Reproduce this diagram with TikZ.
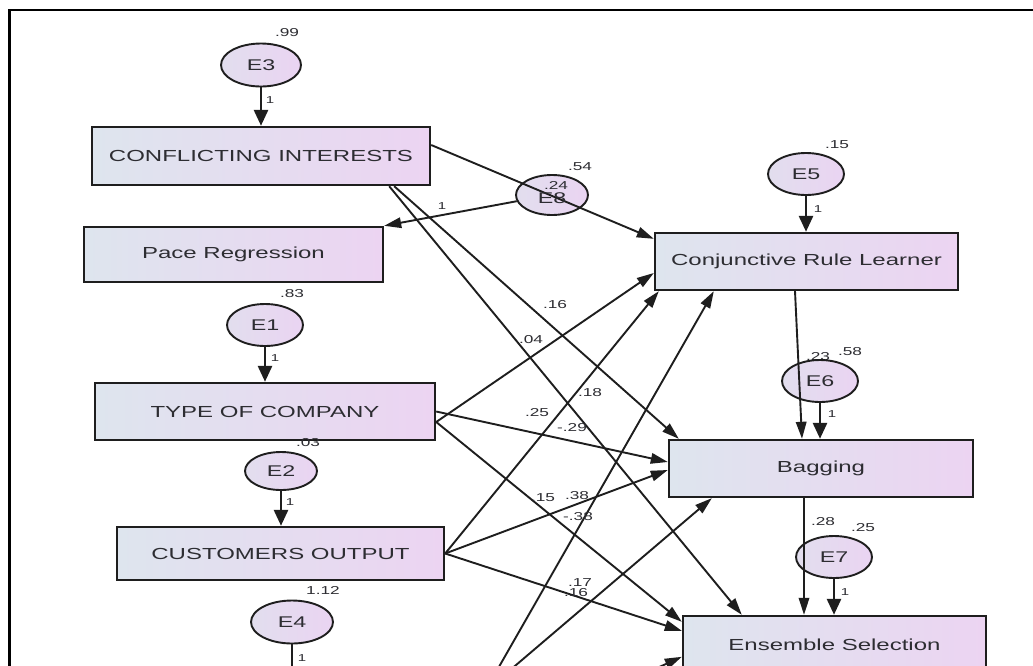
\documentclass[tikz,border=0pt]{standalone}
\usepackage{fontspec}
\newfontfamily\labfont[FakeStretch=1.5]{Liberation Sans}
\usetikzlibrary{arrows.meta,calc,shapes.geometric}
\definecolor{boxL}{RGB}{222,229,238}
\definecolor{boxR}{RGB}{236,212,242}
\definecolor{ellL}{RGB}{226,222,238}
\definecolor{ellR}{RGB}{234,212,242}
\definecolor{ink}{RGB}{30,30,30}
\definecolor{txt}{RGB}{45,45,50}
\begin{document}
\begin{tikzpicture}[x=1pt,y=-1pt,
  var/.style={draw=ink, line width=2.4pt, rectangle, left color=boxL, right color=boxR, text=txt, font=\labfont\fontsize{16}{18}\selectfont, inner sep=0pt},
  err/.style={draw=ink, line width=1.9pt, ellipse, left color=ellL, right color=ellR, text=txt, font=\labfont\fontsize{15.5}{17}\selectfont, inner sep=0pt, minimum width=76pt, minimum height=42pt},
  num/.style={text=txt, font=\labfont\fontsize{11.5}{12}\selectfont, inner sep=0pt},
  one/.style={text=txt, font=\labfont\fontsize{10}{10}\selectfont, inner sep=0pt},
  conn/.style={draw=ink, line width=1.9pt, -{Triangle[length=17pt,width=10.5pt]}},
  errarr/.style={draw=ink, line width=2.8pt, -{Triangle[length=16pt,width=14pt]}}
]
\useasboundingbox (0,0) rectangle (1033,665);
\clip (0,0) rectangle (1033,665);
\fill[white] (0,0) rectangle (1033,665);
\draw[line width=2.8pt, black] (9.5,680) -- (9.5,10) -- (1045,10);

% observed variables
\node[var, minimum width=338pt, minimum height=58pt] (CI) at (261,156) {CONFLICTING INTERESTS};
\node[var, minimum width=299pt, minimum height=55pt] (PR) at (233.5,254.5) {Pace Regression};
\node[var, minimum width=340pt, minimum height=57pt] (TOC) at (265,411.5) {TYPE OF COMPANY};
\node[var, minimum width=327pt, minimum height=53pt] (CO) at (280.5,553.5) {CUSTOMERS OUTPUT};
\node[var, minimum width=303pt, minimum height=57pt] (CRL) at (806.5,261.5) {Conjunctive Rule Learner};
\node[var, minimum width=304pt, minimum height=57pt] (BAG) at (821,468.5) {Bagging};
\node[var, minimum width=303pt, minimum height=57pt] (ES) at (834.5,644.5) {Ensemble Selection};

% label partly hidden by E6
\node[num] (l23) at (818,357) {.23};

% error terms
\node[err, minimum width=80pt, minimum height=43pt] (E3) at (261,65) {E3};
\node[err, minimum width=72pt, minimum height=40pt] (E8) at (552,195) {};
\node[err] (E1) at (265,325) {E1};
\node[err, minimum width=72pt, minimum height=38pt] (E2) at (281,471) {E2};
\node[err, minimum width=82pt, minimum height=43pt] (E4) at (292,622) {E4};
\node[err] (E5) at (806,174) {E5};
\node[err] (E6) at (820,381) {E6};
\node[err] (E7) at (834,557) {E7};

% free ends below the picture
\coordinate (E4t) at (292,705);
\coordinate (S1) at (480,700);
\coordinate (S2) at (475,700);
\coordinate (S3) at (560,712);

% error arrows
\draw[errarr] (E3.south) -- (E3.south |- CI.north);
\draw[errarr] (E1.south) -- (E1.south |- TOC.north);
\draw[errarr] (E2.south) -- (E2.south |- CO.north);
\draw[errarr] (E4.south) -- (E4t);
\draw[errarr] (E5.south) -- (E5.south |- CRL.north);
\draw[errarr] (E6.south) -- (E6.south |- BAG.north);
\draw[errarr] (E7.south) -- (E7.south |- ES.north);

% regression paths
\draw[conn] (E8.190) -- (PR.north east);
\draw[conn] ([yshift=11pt]CI.east) -- ([yshift=-7pt]CRL.north west);
\draw[conn] ([xshift=-37pt]CI.south east) -- ([xshift=11pt]BAG.north west);
\draw[conn] ([xshift=-42pt]CI.south east) -- ([xshift=60pt]ES.north west);
\draw[conn] ([yshift=-10.5pt]TOC.east) -- ([yshift=-11.5pt]CRL.west);
\draw[conn] (TOC.east) -- ([yshift=6.5pt]BAG.west);
\draw[conn] ([yshift=-10.5pt]TOC.east) -- ([yshift=-7pt]ES.north west);
\draw[conn] (CO.east) -- ([xshift=5pt]CRL.south west);
\draw[conn] (CO.east) -- ([yshift=-1.5pt]BAG.west);
\draw[conn] (CO.east) -- ([yshift=-16pt]ES.north west);
\draw[conn] ([xshift=-11.5pt]CRL.south) -- ([xshift=-19pt]BAG.north);
\draw[conn] ([xshift=-17pt]BAG.south) -- ([xshift=-30.5pt]ES.north);
\draw[conn] (S1) -- ([xshift=60pt]CRL.south west);
\draw[conn] (S2) -- ([xshift=44pt]BAG.south west);
\draw[conn] (S3) -- ([yshift=-42pt]ES.north west);

% E8 texts
\node[num] (l24) at (556,185) {.24};
\node[text=txt, font=\labfont\fontsize{15.5}{17}\selectfont, inner sep=0pt] (tE8) at (552,198) {E8};

% numeric labels
\node[num] (l99) at (287,33) {.99};
\node[one] (o3) at (270,100) {1};
\node[num] (l54) at (580,167) {.54};
\node[one] (o8) at (442,206) {1};
\node[num] (l83) at (292,294) {.83};
\node[one] (o1) at (275,358) {1};
\node[num] (l16a) at (555,305) {.16};
\node[num] (l04) at (531,340) {.04};
\node[num] (l18) at (590,393) {.18};
\node[num] (l25a) at (537,413) {.25};
\node[num] (l29) at (572,428) {-.29};
\node[num] (l03) at (308,443) {.03};
\node[one] (o2) at (290,502) {1};
\node[num] (l15a) at (543,498) {.15};
\node[num] (l38a) at (577,496) {.38};
\node[num] (l38b) at (578,517) {-.38};
\node[num] (l17) at (580,583) {.17};
\node[num] (l16b) at (576,593) {.16};
\node[num] (l112) at (323,590) {1.12};
\node[one] (o4) at (302,658) {1};
\node[num] (l15b) at (837,145) {.15};
\node[one] (o5) at (818,209) {1};
\node[num] (l58) at (850,352) {.58};
\node[one] (o6) at (832,414) {1};
\node[num] (l28) at (823,522) {.28};
\node[num] (l25b) at (863,528) {.25};
\node[one] (o7) at (845,592) {1};
\end{tikzpicture}
\end{document}
